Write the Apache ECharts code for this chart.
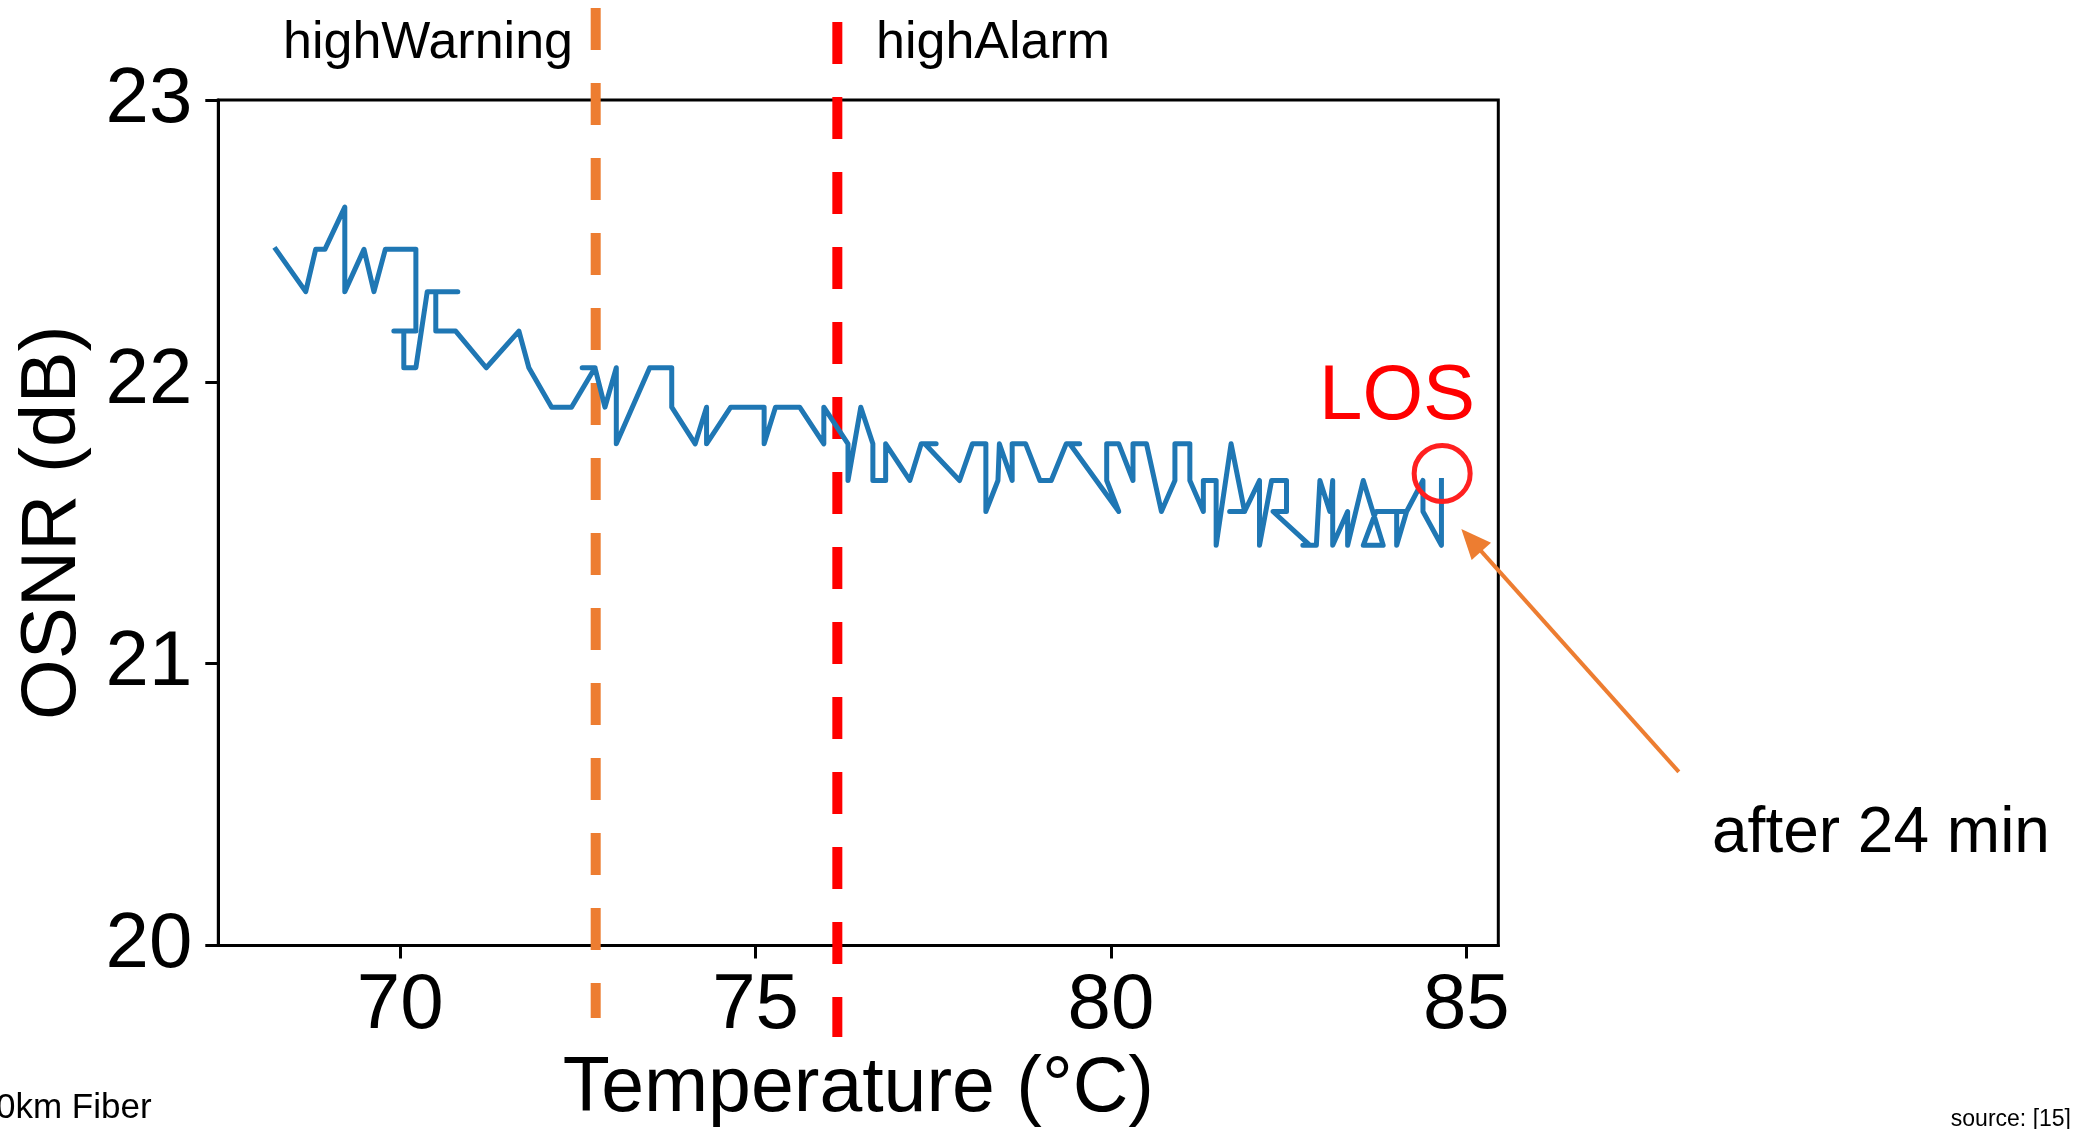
<!DOCTYPE html>
<html>
<head>
<meta charset="utf-8">
<title>OSNR vs Temperature</title>
<script src="https://cdn.jsdelivr.net/npm/echarts@6/dist/echarts.min.js"></script>
<style>
  html, body { margin: 0; padding: 0; background: #ffffff; }
  #chart { width: 2073px; height: 1129px; }
</style>
</head>
<body>
<div id="chart"></div>
<script>
// Measured temperature (°C) and OSNR (dB), in acquisition order
const temperature = [
  68.25, 68.67, 68.81, 68.94, 69.22, 69.22, 69.49, 69.63, 69.79, 70.22,
  70.22, 69.91, 70.05, 70.05, 70.22, 70.38, 70.81, 70.50, 70.50, 70.78,
  71.21, 71.67, 71.81, 72.13, 72.41, 72.74, 72.56, 72.74, 72.88, 73.04,
  73.04, 73.51, 73.82, 73.82, 74.15, 74.31, 74.31, 74.65, 75.12, 75.12,
  75.28, 75.62, 75.96, 75.96, 76.30, 76.30, 76.48, 76.65, 76.65, 76.83,
  76.83, 77.17, 77.33, 77.54, 77.38, 77.87, 78.05, 78.24, 78.24, 78.41,
  78.43, 78.61, 78.61, 78.80, 79.00, 79.16, 79.37, 79.56, 79.42, 80.11,
  79.94, 79.94, 80.11, 80.31, 80.31, 80.50, 80.71, 80.90, 80.90, 81.11,
  81.11, 81.30, 81.30, 81.48, 81.48, 81.69, 81.88, 81.67, 81.88, 82.09,
  82.09, 82.26, 82.47, 82.47, 82.28, 82.80, 82.70, 82.89, 82.94, 83.08,
  83.12, 83.12, 83.33, 83.33, 83.55, 83.83, 83.55, 83.73, 84.16, 84.02,
  84.02, 84.16, 84.39, 84.39, 84.65, 84.65
];
const osnr = [
  22.47, 22.32, 22.47, 22.47, 22.62, 22.32, 22.47, 22.32, 22.47, 22.47,
  22.18, 22.18, 22.18, 22.05, 22.05, 22.32, 22.32, 22.32, 22.18, 22.18,
  22.05, 22.18, 22.05, 21.91, 21.91, 22.05, 22.05, 22.05, 21.91, 22.05,
  21.78, 22.05, 22.05, 21.91, 21.78, 21.91, 21.78, 21.91, 21.91, 21.78,
  21.91, 21.91, 21.78, 21.91, 21.78, 21.65, 21.91, 21.78, 21.65, 21.65,
  21.78, 21.65, 21.78, 21.78, 21.78, 21.65, 21.78, 21.78, 21.54, 21.65,
  21.78, 21.65, 21.78, 21.78, 21.65, 21.65, 21.78, 21.78, 21.78, 21.54,
  21.65, 21.78, 21.78, 21.65, 21.78, 21.78, 21.54, 21.65, 21.78, 21.78,
  21.65, 21.54, 21.65, 21.65, 21.42, 21.78, 21.54, 21.54, 21.54, 21.65,
  21.42, 21.65, 21.65, 21.54, 21.54, 21.42, 21.42, 21.42, 21.65, 21.54,
  21.65, 21.42, 21.54, 21.42, 21.65, 21.42, 21.42, 21.54, 21.54, 21.54,
  21.42, 21.54, 21.65, 21.54, 21.42, 21.65
];

// Axis ticks
const xTicks = [70, 75, 80, 85];
const yTicks = [20, 21, 22, 23];

// Alarm thresholds (°C) and the span (dB) their guide lines cover
const thresholdNames = ['highWarning', 'highAlarm'];
const thresholdTemps = [72.75, 76.15];
const thresholdColors = ['#ed7d31', '#ff0000'];
const thresholdSpans = [[23.326, 19.743], [23.277, 19.675]];

// Loss-of-signal marker and the arrow pointing at it
const losPoint = [84.66, 21.675];
const arrowTail = [87.99, 20.616];
const arrowTip = [84.93, 21.478];

const FONT = '"Liberation Sans", Arial, Helvetica, sans-serif';

const chart = echarts.init(document.getElementById('chart'), null, { renderer: 'canvas' });

const thresholdSeries = thresholdTemps.map((t, i) => ({
  name: thresholdNames[i],
  type: 'line',
  data: [[t, thresholdSpans[i][0]], [t, thresholdSpans[i][1]]],
  clip: false,
  silent: true,
  showSymbol: false,
  symbol: 'none',
  z: 1,
  lineStyle: { color: thresholdColors[i], width: 10, type: [42, 33], cap: 'butt' }
}));

chart.setOption({
  animation: false,
  backgroundColor: '#ffffff',
  grid: {
    left: 218.3, top: 100, width: 1280, height: 845.5,
    show: true, borderColor: '#000000', borderWidth: 3,
    containLabel: false, outerBoundsMode: 'none'
  },
  xAxis: {
    type: 'value', min: 67.44, max: 85.45,
    name: 'Temperature (°C)', nameLocation: 'middle', nameGap: 106,
    nameTextStyle: { fontSize: 77, lineHeight: 77, color: '#000', fontFamily: FONT },
    axisLine: { show: true, onZero: false, lineStyle: { color: '#000', width: 3 } },
    axisTick: { show: true, inside: false, length: 13, customValues: xTicks,
      lineStyle: { color: '#000', width: 3 } },
    axisLabel: { show: true, customValues: xTicks, margin: 22, fontSize: 78, lineHeight: 78,
      color: '#000', fontFamily: FONT },
    splitLine: { show: false }
  },
  yAxis: {
    type: 'value', min: 20, max: 23, interval: 1,
    name: 'OSNR (dB)', nameLocation: 'middle', nameGap: 126, nameRotate: 90,
    nameTextStyle: { fontSize: 78, lineHeight: 78, color: '#000', fontFamily: FONT },
    axisLine: { show: true, onZero: false, lineStyle: { color: '#000', width: 3 } },
    axisTick: { show: true, inside: false, length: 13, customValues: yTicks,
      lineStyle: { color: '#000', width: 3 } },
    axisLabel: { show: true, customValues: yTicks, margin: 26, fontSize: 78,
      color: '#000', fontFamily: FONT },
    splitLine: { show: false }
  },
  series: [
    ...thresholdSeries,
    {
      name: 'OSNR',
      type: 'line',
      data: temperature.map((t, i) => [t, osnr[i]]),
      showSymbol: false,
      symbol: 'none',
      z: 3,
      lineStyle: { color: '#1f77b4', width: 5, join: 'round', cap: 'square' }
    },
    {
      name: 'LOS',
      type: 'custom',
      coordinateSystem: 'cartesian2d',
      clip: false,
      silent: true,
      z: 4,
      data: [losPoint],
      renderItem: function (params, api) {
        const c = api.coord(losPoint);
        const p0 = api.coord(arrowTail);
        const p1 = api.coord(arrowTip);
        const dx = p1[0] - p0[0], dy = p1[1] - p0[1];
        const len = Math.hypot(dx, dy);
        const ux = dx / len, uy = dy / len;
        const headLen = 30, headHalf = 13;
        const bx = p1[0] - ux * headLen, by = p1[1] - uy * headLen;
        const nx = -uy, ny = ux;
        return {
          type: 'group',
          children: [
            { type: 'circle', shape: { cx: c[0], cy: c[1], r: 28 },
              style: { fill: 'none', stroke: '#ff2020', lineWidth: 5 } },
            { type: 'line', shape: { x1: p0[0], y1: p0[1], x2: bx + ux * 2, y2: by + uy * 2 },
              style: { stroke: '#ed7d31', lineWidth: 4 } },
            { type: 'polygon',
              shape: { points: [[p1[0], p1[1]], [bx + nx * headHalf, by + ny * headHalf], [bx - nx * headHalf, by - ny * headHalf]] },
              style: { fill: '#ed7d31', stroke: 'none' } }
          ]
        };
      }
    }
  ],
  graphic: [
    { type: 'text', x: 573, y: 44, silent: true,
      style: { text: thresholdNames[0], fontSize: 52, fontFamily: FONT, fill: '#000', align: 'right', verticalAlign: 'middle' } },
    { type: 'text', x: 876, y: 44, silent: true,
      style: { text: thresholdNames[1], fontSize: 52, fontFamily: FONT, fill: '#000', align: 'left', verticalAlign: 'middle' } },
    { type: 'text', x: 1319, y: 397, silent: true,
      style: { text: 'LOS', fontSize: 78, fontFamily: FONT, fill: '#ff0000', align: 'left', verticalAlign: 'middle' } },
    { type: 'text', x: 1712, y: 834, silent: true,
      style: { text: 'after 24 min', fontSize: 64, fontFamily: FONT, fill: '#000', align: 'left', verticalAlign: 'middle' } },
    { type: 'text', x: -4, y: 1108, silent: true,
      style: { text: '0km Fiber', fontSize: 35, fontFamily: FONT, fill: '#000', align: 'left', verticalAlign: 'middle' } },
    { type: 'text', x: 2071, y: 1120, silent: true,
      style: { text: 'source: [15]', fontSize: 23, fontFamily: FONT, fill: '#000', align: 'right', verticalAlign: 'middle' } }
  ]
});
</script>
</body>
</html>
